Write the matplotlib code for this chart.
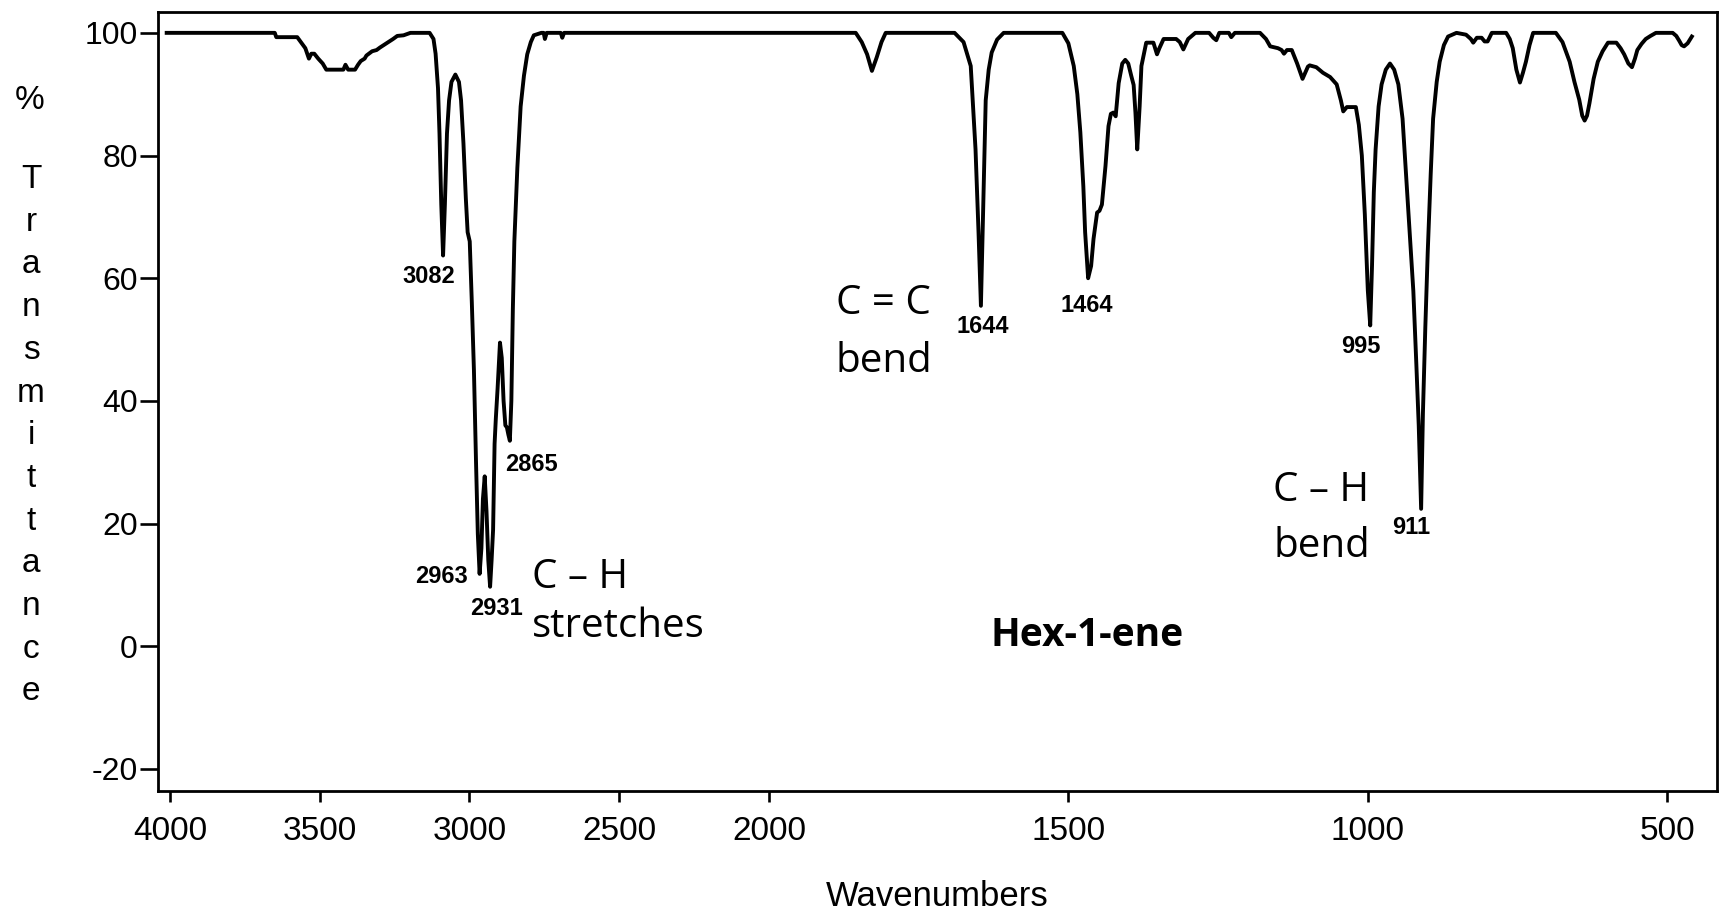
import numpy as np
import matplotlib
matplotlib.use("Agg")
import matplotlib.pyplot as plt

plt.rcParams['font.family'] = ['Liberation Sans', 'DejaVu Sans']
plt.rcParams['axes.unicode_minus'] = False

# ---------------- data ----------------
wavenumber = [
    4011, 3650, 3645, 3620, 3575, 3560, 3548, 3536, 3528, 3518, 3505, 3490, 3478,
    3421, 3414, 3405, 3382, 3372, 3363, 3350, 3344, 3325, 3310, 3299, 3280, 3273,
    3255, 3241, 3220, 3197, 3133, 3120, 3113, 3105, 3100, 3094, 3088, 3082, 3075,
    3068, 3060, 3047, 3035, 3028, 3020, 3012, 3006, 2999, 2992, 2985, 2978, 2972,
    2966, 2960, 2955, 2949, 2943, 2937, 2931, 2926, 2921, 2916, 2912, 2906, 2898,
    2892, 2886, 2880, 2875, 2870, 2865, 2860, 2855, 2850, 2840, 2829, 2818, 2807,
    2795, 2785, 2760, 2752, 2748, 2742, 2695, 2690, 2684,
    1855, 1845, 1836, 1828, 1820, 1812, 1805, 1690, 1675, 1663, 1655, 1650, 1646,
    1642, 1638, 1633, 1628, 1619, 1608, 1510, 1500, 1491, 1485, 1480, 1475, 1472,
    1467, 1462, 1458, 1452, 1448, 1444, 1438, 1433, 1429, 1425, 1421, 1416, 1410,
    1405, 1400, 1395, 1391, 1388, 1385, 1381, 1378, 1370, 1358, 1352, 1348, 1341,
    1320, 1314, 1308, 1300, 1288, 1265, 1258, 1253, 1248, 1232, 1228, 1222, 1190,
    1180, 1170, 1163, 1150, 1144, 1140, 1135, 1127, 1118, 1109, 1100, 1097, 1086,
    1075, 1063, 1052, 1045, 1041, 1035, 1020, 1015, 1010, 1005, 1000, 996, 993,
    990, 987, 982, 977, 970, 963, 956, 949, 942, 936, 930, 924, 919, 915, 911,
    908, 904, 900, 895, 891, 885, 880, 873, 866, 852, 836, 828, 824, 818, 810,
    805, 800, 793, 769, 763, 758, 752, 746, 741, 736, 730, 724, 686, 675, 663,
    655, 647, 642, 638, 634, 630, 623, 616, 608, 599, 585, 578, 572, 565, 559,
    554, 550, 543, 536, 528, 519, 491, 485, 480, 476, 472, 466, 459,
]
transmittance = [
    100, 100, 99.3, 99.3, 99.3, 98.3, 97.5, 95.8, 96.6, 96.6, 95.8, 95.0, 94.0,
    94.0, 94.8, 94.0, 94.0, 94.8, 95.4, 95.8, 96.3, 97.0, 97.2, 97.6, 98.2, 98.4,
    99.0, 99.5, 99.6, 100, 100, 99, 96.6, 91, 83.6, 72, 63.7, 72, 83.6,
    89, 92, 93.2, 92, 89, 82, 73, 67.5, 66, 56, 45, 30, 18.3,
    11.8, 16, 24, 27.7, 22, 14, 9.7, 14, 19, 33, 37, 42, 49.5,
    47, 40, 36, 35.7, 34.5, 33.5, 40, 55, 66, 78, 88, 93, 96.5,
    98.5, 99.6, 100, 100, 99, 100, 100, 99.2, 100,
    100, 98.5, 96.5, 93.8, 96, 98.5, 100, 100, 98.5, 94.6, 81, 67.5, 55.5,
    72, 89, 94, 96.8, 98.9, 100, 100, 98.3, 94.6, 90, 83.8, 75, 67.5,
    60, 62, 66.4, 70.7, 71, 72, 78.3, 84.8, 86.8, 87, 86.4, 91.8, 95,
    95.6, 95, 93, 91.5, 87, 81, 88, 94.6, 98.4, 98.4, 96.5, 97.5, 99,
    99, 98.5, 97.3, 99, 100, 100, 99.2, 98.8, 100, 100, 99.3, 100, 100,
    100, 99, 97.8, 97.5, 97.2, 96.6, 97.2, 97.2, 95, 92.5, 94.5, 94.7, 94.4,
    93.5, 92.8, 91.6, 89, 87.2, 87.9, 87.9, 85, 80, 70.4, 58, 52.3, 62,
    74, 81, 88, 91.6, 94, 95, 94, 91.6, 86, 76.6, 67, 57.9, 46, 36, 22.4,
    38, 52, 64.2, 77, 86, 92, 95.3, 98, 99.4, 100, 99.7, 99, 98.4, 99.2, 99.2,
    98.6, 98.6, 100, 100, 99, 97.5, 94, 91.9, 93.5, 95.3, 98, 100, 100, 98.5, 95.3,
    92, 89.1, 86.5, 85.7, 86.5, 88.5, 92.5, 95.3, 97, 98.4, 98.4, 97.5, 96.5, 95, 94.4,
    95.8, 97.2, 98.2, 99, 99.5, 100, 100, 99.5, 98.7, 98, 97.8, 98.3, 99.4,
]

x_ticks = [4000, 3500, 3000, 2500, 2000, 1500, 1000, 500]
y_ticks = [-20, 0, 20, 40, 60, 80, 100]

# peak labels: (text, wavenumber, transmittance)  -- centred
peak_labels = [("3082", 3137, 60.3), ("2865", 2794, 29.7), ("2963", 3094, 11.3),
               ("2931", 2911, 6.2), ("1644", 1643, 52.2), ("1464", 1470, 55.6),
               ("995", 1012, 48.9), ("911", 928, 19.4)]
# group annotations: (text, wavenumber of left edge, transmittance of baseline)
group_labels = [("C \u2013 H", 2791, 9.5), ("stretches", 2791, 1.5),
                ("C = C", 1888, 54.1), ("bend", 1888, 44.7),
                ("C \u2013 H", 1158, 23.7), ("bend", 1158, 14.6)]
title_text = ("Hex-1-ene", 1468, 0.0)

# ---------------- figure ----------------
fig = plt.figure(figsize=(17.25, 9.14), dpi=100)
ax = fig.add_axes([0.09159, 0.13457, 0.90377, 0.85230])


def fwd(x):
    x = np.asarray(x, dtype=float)
    return np.where(x > 2000, 2000 + (x - 2000) * 0.5, x)


def inv(u):
    u = np.asarray(u, dtype=float)
    return np.where(u > 2000, 2000 + (u - 2000) * 2.0, u)


ax.set_xscale('function', functions=(fwd, inv))
ax.plot(wavenumber, transmittance, color='black', lw=2.8, solid_joinstyle='round')
ax.set_xlim(4040, 417)
ax.set_ylim(-23.6, 103.4)

ax.set_xticks(x_ticks)
ax.set_xticklabels([str(t) for t in x_ticks])
ax.set_yticks(y_ticks)
ax.set_yticklabels([str(t) for t in y_ticks])
ax.xaxis.set_minor_locator(matplotlib.ticker.NullLocator())
ax.tick_params(axis='x', length=8, width=1.9, pad=10, labelsize=24, direction='out')
ax.tick_params(axis='y', length=13, width=1.9, pad=1.5, labelsize=23, direction='out')
for s in ax.spines.values():
    s.set_linewidth(2.0)

ax.set_xlabel("Wavenumbers", fontsize=25, labelpad=24)

# stacked y label
W, H = 1725.0, 914.0
fig.text(30 / W, 1 - 109 / H, "%", fontsize=24, ha='center', va='baseline')
for i, ch in enumerate("Transmittance"):
    fig.text(31 / W, 1 - (188 + 42.7 * i) / H, ch, fontsize=24, ha='center', va='baseline')

for txt, x, y in peak_labels:
    ax.text(x, y, txt, fontsize=17, fontweight='bold', ha='center', va='center')
for txt, x, y in group_labels:
    ax.text(x, y, txt, fontsize=29, family=['Open Sans', 'DejaVu Sans'],
            ha='left', va='baseline')
ax.text(title_text[1], title_text[2], title_text[0], fontsize=28, fontweight='bold',
        family=['Open Sans', 'DejaVu Sans'], ha='center', va='baseline')

fig.savefig("out.png", dpi=100)
